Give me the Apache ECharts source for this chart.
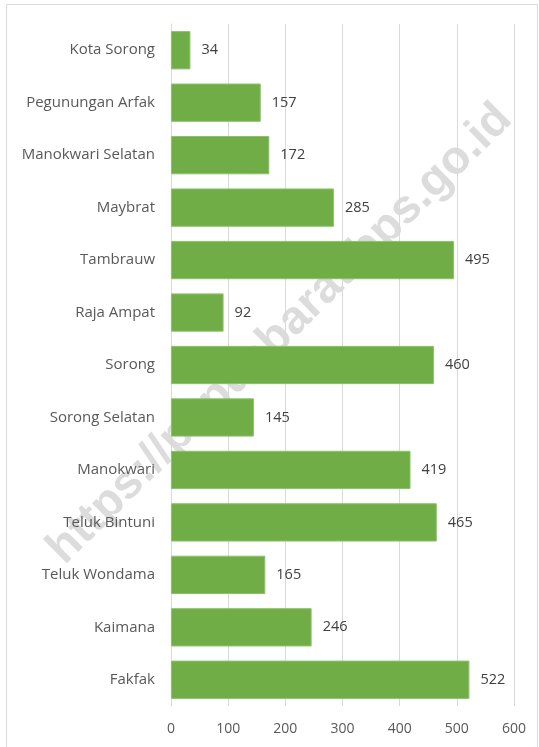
<!DOCTYPE html>
<html>
<head>
<meta charset="utf-8">
<script src="https://cdn.jsdelivr.net/npm/echarts@6/dist/echarts.min.js"></script>
<style>
  html, body { margin: 0; padding: 0; background: #fff; }
  #chart { width: 539px; height: 747px; }
</style>
</head>
<body>
<div id="chart"></div>
<script>
// kabupaten/kota, dari bawah ke atas
var regions = ['Fakfak', 'Kaimana', 'Teluk Wondama', 'Teluk Bintuni', 'Manokwari',
  'Sorong Selatan', 'Sorong', 'Raja Ampat', 'Tambrauw', 'Maybrat',
  'Manokwari Selatan', 'Pegunungan Arfak', 'Kota Sorong']
var values = [522, 246, 165, 465, 419, 145, 460, 92, 495, 285, 172, 157, 34]
var xTicks = [0, 100, 200, 300, 400, 500, 600]

var chart = echarts.init(document.getElementById('chart'))
var font = '"Open Sans", "Noto Sans", sans-serif'

chart.setOption({
  animation: false,
  textStyle: { fontFamily: font },
  graphic: [
    {
      type: 'rect', z: -10, silent: true,
      shape: { x: 6.5, y: 4.5, width: 531, height: 760 },
      style: { fill: '#fff', stroke: '#d9d9d9', lineWidth: 1 }
    },
    {
      // watermark, di belakang batang dan label
      type: 'text', z: -5, silent: true,
      x: 280, y: 334, rotation: 0.78,
      style: {
        text: 'https://papuabarat.bps.go.id',
        fill: '#dcdcdc',
        font: 'bold 47px "Liberation Sans", Arial, sans-serif',
        align: 'center', verticalAlign: 'middle'
      }
    }
  ],
  grid: { left: 171, right: 25, top: 24, bottom: 41 },
  xAxis: {
    type: 'value',
    min: xTicks[0], max: xTicks[xTicks.length - 1], interval: 100,
    axisLine: { show: false },
    axisTick: { show: false },
    axisLabel: { color: '#595959', fontSize: 14, margin: 16 },
    splitLine: { lineStyle: { color: '#d9d9d9', width: 1 } }
  },
  yAxis: {
    type: 'category',
    data: regions,
    axisLine: { lineStyle: { color: '#d9d9d9' } },
    axisTick: { show: false },
    axisLabel: { color: '#595959', fontSize: 15, margin: 16 }
  },
  series: [{
    type: 'bar',
    z: 5,
    data: values,
    barCategoryGap: '27%',
    itemStyle: { color: '#70ad47', borderColor: '#8cc26a', borderWidth: 1 },
    label: {
      show: true, position: 'right', distance: 11,
      color: '#404040', fontSize: 14.5
    }
  }]
})
</script>
</body>
</html>
